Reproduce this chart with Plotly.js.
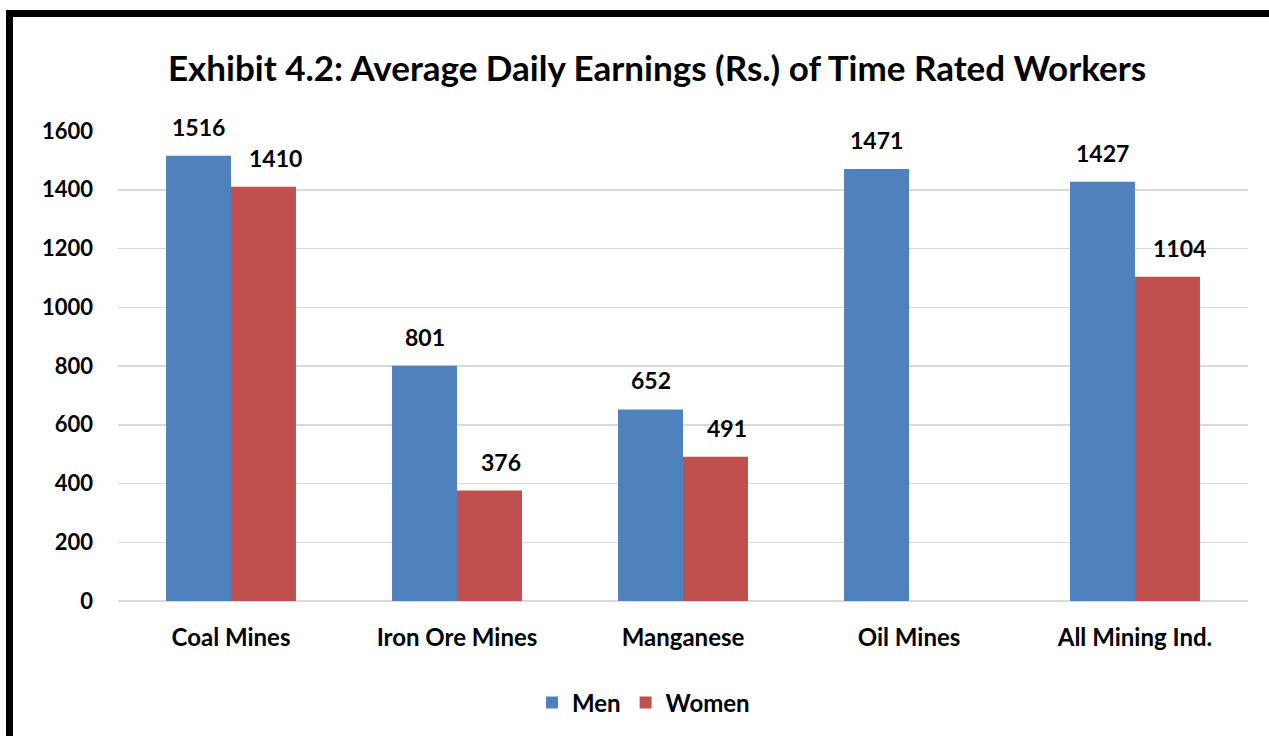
<!DOCTYPE html>
<html>
<head>
<meta charset="utf-8">
<script src="https://cdn.plot.ly/plotly-3.0.1.min.js"></script>
<style>
  html, body { margin: 0; padding: 0; background: #fff; }
  #wrap { position: relative; width: 1269px; height: 736px; overflow: hidden; }
  #chart { position: absolute; left: 0; top: 0; width: 1269px; height: 736px; }
  #frame { position: absolute; left: 6px; top: 10px; width: 1400px; height: 800px;
           border-left: 7px solid #000; border-top: 7px solid #000; pointer-events: none; }
</style>
</head>
<body>
<div id="wrap">
  <div id="chart"></div>
  <div id="frame"></div>
</div>
<script>
const categories = ["Coal Mines", "Iron Ore Mines", "Manganese", "Oil Mines", "All Mining Ind."];
const men = [1516, 801, 652, 1471, 1427];
const women = [1410, 376, 491, null, 1104];
const yTicks = [0, 200, 400, 600, 800, 1000, 1200, 1400, 1600];

const FONT = "Lato, 'Open Sans', sans-serif";
const BLUE = "#4F81BD";
const RED = "#C0504D";

const traces = [
  { type: "bar", name: "Men", x: categories, y: men, marker: { color: BLUE }, hoverinfo: "x+y" },
  { type: "bar", name: "Women", x: categories, y: women, marker: { color: RED }, hoverinfo: "x+y" }
];

const annotations = [];
function addLabels(vals, shift) {
  vals.forEach((v, i) => {
    if (v === null) return;
    annotations.push({
      x: categories[i], y: v, xref: "x", yref: "y",
      text: String(v), showarrow: false,
      xanchor: "center", yanchor: "bottom",
      xshift: shift, yshift: 13,
      font: { family: FONT, size: 23, color: "#000", weight: "bold" }
    });
  });
}
addLabels(men, -32.5);
addLabels(women, 44);

const layout = {
  width: 1269, height: 736,
  paper_bgcolor: "rgba(0,0,0,0)", plot_bgcolor: "#fff",
  margin: { l: 118, r: 21, t: 131, b: 135 },
  font: { family: FONT, size: 22, color: "#000", weight: "bold" },
  title: {
    text: "<b>Exhibit 4.2: Average Daily Earnings (Rs.) of Time Rated Workers</b>",
    font: { family: FONT, size: 35, color: "#000" },
    x: 0.477, xref: "paper", xanchor: "center",
    y: 0.906, yref: "container", yanchor: "middle"
  },
  barmode: "group", bargap: 0.425, bargroupgap: 0,
  xaxis: {
    type: "category", showgrid: false, zeroline: false,
    showline: false, ticks: "",
    tickfont: { family: FONT, size: 24, color: "#000", weight: "bold" },
    ticklabelstandoff: 20
  },
  yaxis: {
    range: [0, 1600], tickvals: yTicks, ticktext: yTicks.map(String),
    showgrid: true, gridcolor: "#D9D9D9", gridwidth: 1.5,
    zeroline: true, zerolinecolor: "#D9D9D9", zerolinewidth: 1.5,
    showline: false, ticks: "",
    tickfont: { family: FONT, size: 22, color: "#000", weight: "bold" },
    ticklabelstandoff: 24
  },
  showlegend: true,
  legend: {
    orientation: "h", x: 0.465, xanchor: "center", y: 0.045, yref: "container",
    yanchor: "middle",
    font: { family: FONT, size: 24, color: "#000", weight: "bold" },
    itemwidth: 30, traceorder: "normal"
  },
  annotations: annotations
};

Plotly.newPlot("chart", traces, layout, { displayModeBar: false, staticPlot: true });
</script>
</body>
</html>
